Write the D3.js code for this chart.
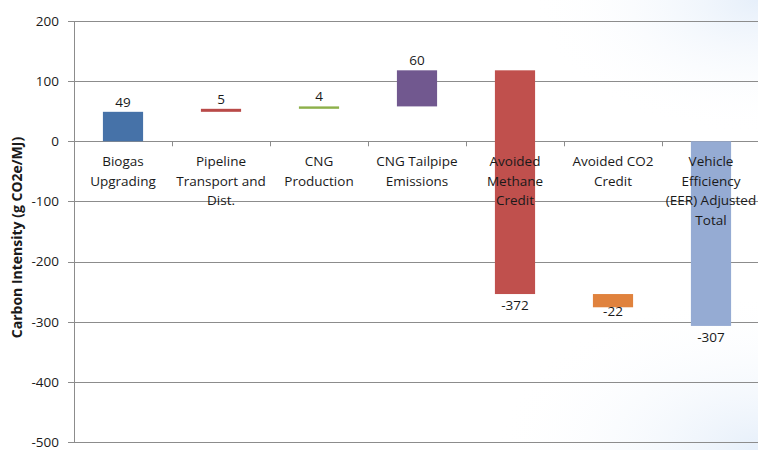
<!DOCTYPE html>
<html>
<head>
<meta charset="utf-8">
<script src="https://cdn.jsdelivr.net/npm/d3@7"></script>
<style>
  html, body { margin: 0; padding: 0; background: #fff; }
  svg { display: block; }
  text { font-family: "Open Sans", "Noto Sans", sans-serif; fill: #1a1a1a; }
</style>
</head>
<body>
<svg id="chart" width="758" height="450"></svg>
<script>
// Waterfall steps of carbon intensity (g CO2e/MJ)
const categories = [
  ["Biogas", "Upgrading"],
  ["Pipeline", "Transport and", "Dist."],
  ["CNG", "Production"],
  ["CNG Tailpipe", "Emissions"],
  ["Avoided", "Methane", "Credit"],
  ["Avoided CO2", "Credit"],
  ["Vehicle", "Efficiency", "(EER) Adjusted", "Total"]
];
const values = [49, 5, 4, 60, -372, -22, -307];
const isTotal = [false, false, false, false, false, false, true];
const colors = ["#4672a8", "#b94a48", "#8db04a", "#71588f", "#c0504d", "#e0823d", "#95abd3"];
const yTicks = [200, 100, 0, -100, -200, -300, -400, -500];

const svg = d3.select("#chart");

// faint bluish glow in the right-hand corners
const defs = svg.append("defs");
const g1 = defs.append("radialGradient").attr("id", "glowTop")
  .attr("cx", "100%").attr("cy", "0%").attr("r", "30%");
g1.append("stop").attr("offset", "0%").attr("stop-color", "#e6effa");
g1.append("stop").attr("offset", "100%").attr("stop-color", "#ffffff").attr("stop-opacity", 0);
const g2 = defs.append("radialGradient").attr("id", "glowBottom")
  .attr("cx", "100%").attr("cy", "100%").attr("r", "35%");
g2.append("stop").attr("offset", "0%").attr("stop-color", "#e6effa");
g2.append("stop").attr("offset", "100%").attr("stop-color", "#ffffff").attr("stop-opacity", 0);
svg.append("rect").attr("width", 758).attr("height", 450).attr("fill", "url(#glowTop)");
svg.append("rect").attr("width", 758).attr("height", 450).attr("fill", "url(#glowBottom)");

const margin = { left: 74, right: -2, top: 21, bottom: 8 };
const width = 758 - margin.left - margin.right;
const height = 450 - margin.top - margin.bottom;

const x = d3.scaleBand().domain(d3.range(categories.length))
  .range([margin.left, margin.left + width])
  .paddingInner(0.59).paddingOuter(0.295);
const y = d3.scaleLinear().domain([-500, 200]).range([margin.top + height, margin.top]);

// cumulative start/end of each step
let running = 0;
const steps = values.map((v, i) => {
  let start, end;
  if (isTotal[i]) { start = 0; end = v; }
  else { start = running; end = running + v; running = end; }
  return { i, v, start, end };
});

// gridlines
svg.append("g")
  .attr("transform", `translate(${margin.left},0)`)
  .call(d3.axisLeft(y).tickValues(yTicks).tickSize(-width).tickFormat(""))
  .call(g => g.select(".domain").remove())
  .call(g => g.selectAll("line").attr("stroke", "#8c8c8c").attr("stroke-width", 1).attr("shape-rendering", "crispEdges"));

// left axis with tick labels
svg.append("g")
  .attr("transform", `translate(${margin.left},0)`)
  .call(d3.axisLeft(y).tickValues(yTicks).tickSize(6).tickPadding(9).tickFormat(d => String(d)))
  .call(g => g.select(".domain").attr("stroke", "#8c8c8c").attr("shape-rendering", "crispEdges"))
  .call(g => g.selectAll("line").attr("stroke", "#8c8c8c").attr("shape-rendering", "crispEdges"))
  .call(g => g.selectAll("text").style("font-size", "13.5px").attr("fill", "#1a1a1a"));

// bars
svg.append("g").selectAll("rect").data(steps).join("rect")
  .attr("x", d => x(d.i))
  .attr("width", x.bandwidth())
  .attr("y", d => y(Math.max(d.start, d.end)))
  .attr("height", d => Math.abs(y(d.start) - y(d.end)))
  .attr("fill", d => colors[d.i]);

// category boundary ticks on the zero line
const step = x.step();
const bounds = d3.range(1, categories.length).map(k => margin.left + k * step);
svg.append("g").selectAll("line").data(bounds).join("line")
  .attr("x1", d => Math.round(d) + 0.5).attr("x2", d => Math.round(d) + 0.5)
  .attr("y1", y(0)).attr("y2", y(0) + 5)
  .attr("stroke", "#8c8c8c");

// category labels below the zero line
const cat = svg.append("g").selectAll("text").data(categories).join("text")
  .attr("text-anchor", "middle")
  .style("font-size", "13.5px")
  .attr("x", (d, i) => x(i) + x.bandwidth() / 2)
  .attr("y", y(0) + 25);
cat.selectAll("tspan").data(d => d).join("tspan")
  .attr("x", function () { return d3.select(this.parentNode).attr("x"); })
  .attr("dy", (d, j) => j === 0 ? 0 : 19.5)
  .text(d => d);

// value labels
svg.append("g").selectAll("text").data(steps).join("text")
  .attr("text-anchor", "middle")
  .style("font-size", "13.5px")
  .attr("x", d => x(d.i) + x.bandwidth() / 2)
  .attr("y", d => d.v >= 0 ? y(Math.max(d.start, d.end)) - 5 : y(Math.min(d.start, d.end)) + (d.i === 5 ? 9 : 16))
  .text(d => String(d.v));

// y-axis title
svg.append("text")
  .attr("transform", `translate(22,${y(-160)}) rotate(-90)`)
  .attr("text-anchor", "middle")
  .style("font-size", "14px")
  .style("font-weight", "bold")
  .text("Carbon Intensity (g CO2e/MJ)");
</script>
</body>
</html>
